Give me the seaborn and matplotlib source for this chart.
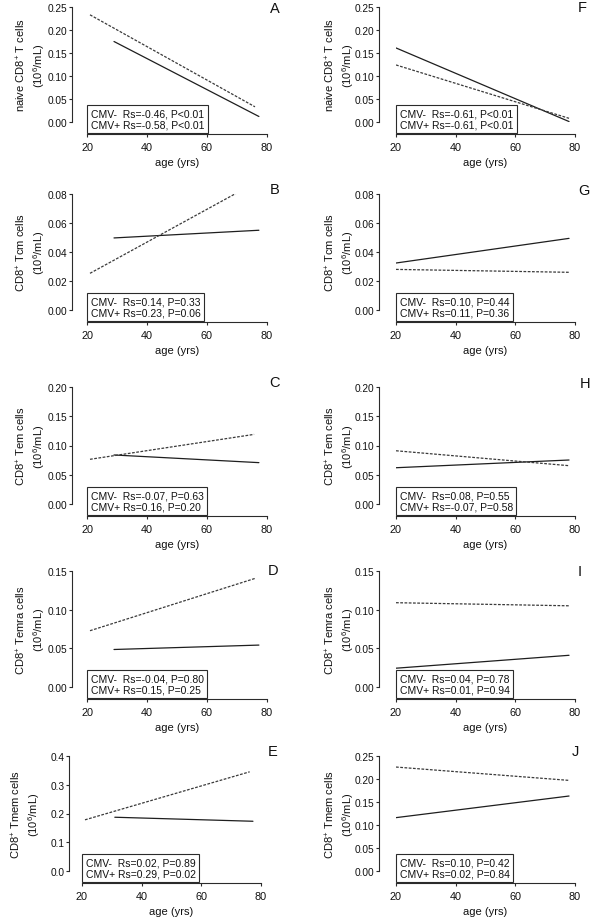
import numpy as np
import pandas as pd
import seaborn as sns
import matplotlib.pyplot as plt
from matplotlib.ticker import MultipleLocator, FormatStrFormatter
from matplotlib.transforms import offset_copy

# panels A-E (left column) and F-J (right column)
letters = ['A', 'B', 'C', 'D', 'E', 'F', 'G', 'H', 'I', 'J']
cell_types = ['naive CD8$^{+}$ T cells', 'CD8$^{+}$ Tcm cells', 'CD8$^{+}$ Tem cells',
              'CD8$^{+}$ Temra cells', 'CD8$^{+}$ Tmem cells']

# regression line end points, CMV- (solid)
neg_age_from = [29, 29, 29, 29, 31, 20, 20, 20, 20, 20]
neg_age_to = [77.3, 77.3, 77.3, 77.3, 77.3, 78, 78, 78, 78, 78]
neg_from = [0.175, 0.0497, 0.0838, 0.0485, 0.187, 0.161, 0.0324, 0.062, 0.0243, 0.116]
neg_to = [0.012, 0.055, 0.0707, 0.0542, 0.173, 0.001, 0.0494, 0.0752, 0.041, 0.163]

# CMV+ (dashed)
pos_age_from = [21, 21, 21, 21, 21, 20, 20, 20, 20, 20]
pos_age_to = [76, 76, 75.7, 76, 76.2, 78, 78, 78, 78, 78]
pos_from = [0.233, 0.0253, 0.0764, 0.0728, 0.178, 0.124, 0.028, 0.091, 0.109, 0.226]
pos_to = [0.033, 0.0876, 0.119, 0.1404, 0.345, 0.008, 0.026, 0.0655, 0.105, 0.197]

# Spearman stats
neg_rs = ['-0.46', '0.14', '-0.07', '-0.04', '0.02', '-0.61', '0.10', '0.08', '0.04', '0.10']
neg_p = ['P<0.01', 'P=0.33', 'P=0.63', 'P=0.80', 'P=0.89', 'P<0.01', 'P=0.44', 'P=0.55', 'P=0.78', 'P=0.42']
pos_rs = ['-0.58', '0.23', '0.16', '0.15', '0.29', '-0.61', '0.11', '-0.07', '0.01', '0.02']
pos_p = ['P<0.01', 'P=0.06', 'P=0.20', 'P=0.25', 'P=0.02', 'P<0.01', 'P=0.36', 'P=0.58', 'P=0.94', 'P=0.84']

# y axes
y_max = [0.25, 0.08, 0.20, 0.15, 0.4, 0.25, 0.08, 0.20, 0.15, 0.25]
y_step = [0.05, 0.02, 0.05, 0.05, 0.1, 0.05, 0.02, 0.05, 0.05, 0.05]
x_ticks = [20, 40, 60, 80]

sns.set_theme(style='ticks')
plt.rcParams['font.family'] = ['Liberation Sans', 'DejaVu Sans']
plt.rcParams['mathtext.fontset'] = 'custom'
plt.rcParams['mathtext.rm'] = 'Liberation Sans'
plt.rcParams['mathtext.it'] = 'Liberation Sans:italic'
plt.rcParams['mathtext.bf'] = 'Liberation Sans:bold'
plt.rcParams['mathtext.default'] = 'regular'

W, H = 600, 920
fig = plt.figure(figsize=(W / 100, H / 100), dpi=100)

# layout in pixels
tops = [8, 195, 388, 572, 757]
zeros = [123, 311, 505, 688, 872]
letter_y = [9, 190, 383, 571, 752, 8, 191, 384, 572, 752]
letter_x = [275, 275, 275, 273, 273, 582, 584, 585, 580, 575]
ink = '#2b2b2b'

for i, letter in enumerate(letters):
    col, row = divmod(i, 5)
    if col == 0:
        x0, x1 = (82, 261) if row == 4 else (87, 267)
        y_off = 13 if row == 4 else 15
    else:
        x0, x1 = 396, 575
        y_off = 17
    ax = fig.add_axes([x0 / W, 1 - zeros[row] / H, (x1 - x0) / W, (zeros[row] - tops[row]) / H])

    df = pd.DataFrame({
        'age': [neg_age_from[i], neg_age_to[i], pos_age_from[i], pos_age_to[i]],
        'value': [neg_from[i], neg_to[i], pos_from[i], pos_to[i]],
        'group': ['CMV-', 'CMV-', 'CMV+', 'CMV+'],
    })
    sns.lineplot(data=df, x='age', y='value', hue='group', style='group',
                 palette={'CMV-': '#1e1e1e', 'CMV+': '#3a3a3a'},
                 dashes={'CMV-': '', 'CMV+': (2.2, 1.2)},
                 estimator=None, legend=False, lw=0.9, ax=ax)

    ax.set_xlim(20, 80)
    ax.set_ylim(0, y_max[i])
    ax.xaxis.set_major_locator(plt.FixedLocator(x_ticks))
    ax.yaxis.set_major_locator(MultipleLocator(y_step[i]))
    ax.yaxis.set_major_formatter(FormatStrFormatter('%.1f' if y_step[i] >= 0.1 else '%.2f'))

    for s in ['top', 'right']:
        ax.spines[s].set_visible(False)
    ax.spines['left'].set_position(('outward', y_off * 0.72))
    ax.spines['bottom'].set_position(('outward', 12 * 0.72))
    ax.spines['left'].set_bounds(0, y_max[i])
    ax.spines['bottom'].set_bounds(20, 80)
    for s in ['left', 'bottom']:
        ax.spines[s].set_color(ink)
        ax.spines[s].set_linewidth(0.8)
    ax.tick_params(axis='both', length=2.3, width=0.8, color=ink, labelsize=7.3,
                   labelcolor='#111111')
    ax.tick_params(axis='y', pad=1.0)
    ax.tick_params(axis='x', pad=3.5, labelsize=7.8)

    ax.set_xlabel('age (yrs)', fontsize=8, labelpad=3.5, color='#111111')
    ax.set_ylabel(cell_types[row] + '\n(10$^{6}$/mL)', fontsize=8, linespacing=1.25,
                  color='#111111')
    ax.yaxis.set_label_coords(-40.5 / (x1 - x0), 0.5)

    txt = 'CMV-  Rs=%s, %s\nCMV+ Rs=%s, %s' % (neg_rs[i], neg_p[i], pos_rs[i], pos_p[i])
    tr = offset_copy(ax.transAxes, fig=fig, x=3.6, y=-7.5, units='dots')
    ax.text(0, 0, txt, transform=tr, ha='left', va='bottom', fontsize=7.5,
            linespacing=1.1, color='#111111', zorder=6, clip_on=False,
            bbox=dict(boxstyle='square,pad=0.35', fc='white', ec=ink, lw=0.8))

    fig.text(letter_x[i] / W, 1 - letter_y[i] / H, letter, ha='center', va='center',
             fontsize=10.5, color='#111111')

fig.savefig('out.png', dpi=100)
